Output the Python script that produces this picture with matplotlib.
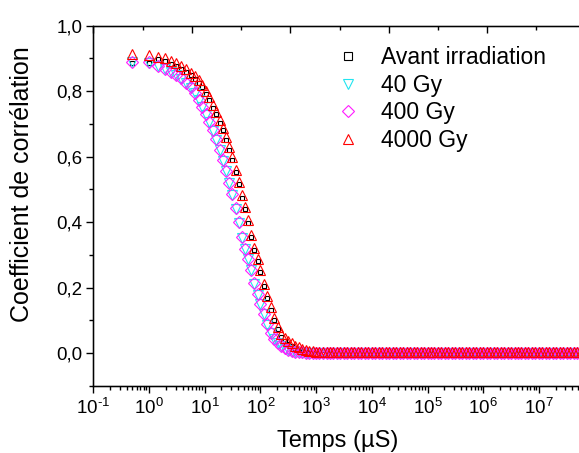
import numpy as np
import matplotlib
matplotlib.use("Agg")
import matplotlib.pyplot as plt
from matplotlib.ticker import FixedLocator, FuncFormatter, LogLocator, MultipleLocator, NullFormatter

plt.rcParams['font.family'] = ['Liberation Sans', 'DejaVu Sans']
plt.rcParams['mathtext.default'] = 'regular'
plt.rcParams['axes.unicode_minus'] = False

# temps de corrélation (µs) - partie décroissante
t_decay = [0.5, 1.0, 1.45, 1.9, 2.5, 3.1, 3.8, 4.6, 5.6, 6.6, 7.8, 9.0,
           10.5, 12, 14, 16, 18.5, 21, 24, 27.5, 31, 36, 41, 47, 53, 60, 68, 78, 89,
           100, 115, 133, 154, 178, 205, 237, 274, 316, 365, 422, 487, 562, 649, 750, 866]

avant_decay = [0.887, 0.887, 0.897, 0.892, 0.884, 0.877, 0.869, 0.86, 0.849, 0.838, 0.825, 0.812,
               0.792, 0.774, 0.75, 0.729, 0.704, 0.68, 0.652, 0.62, 0.59, 0.552, 0.515, 0.475, 0.439,
               0.397, 0.354, 0.314, 0.28, 0.247, 0.204, 0.167, 0.132, 0.1, 0.072, 0.05, 0.037,
               0.028, 0.021, 0.015, 0.01, 0.006, 0.003, 0.001, 0.0]
gy40_decay = [0.89, 0.887, 0.876, 0.868, 0.859, 0.849, 0.838, 0.825, 0.811, 0.793, 0.772, 0.752,
              0.728, 0.706, 0.679, 0.652, 0.619, 0.588, 0.555, 0.518, 0.484, 0.441, 0.398, 0.352, 0.318,
              0.287, 0.253, 0.212, 0.178, 0.15, 0.118, 0.087, 0.061, 0.043, 0.031, 0.02, 0.013,
              0.008, 0.005, 0.003, 0.002, 0.001, 0.0, -0.001, -0.001]
gy400_decay = [0.89, 0.888, 0.877, 0.869, 0.86, 0.85, 0.839, 0.826, 0.812, 0.794, 0.773, 0.753,
               0.729, 0.707, 0.68, 0.653, 0.62, 0.589, 0.556, 0.519, 0.485, 0.442, 0.399, 0.353, 0.319,
               0.288, 0.254, 0.213, 0.179, 0.151, 0.119, 0.088, 0.062, 0.044, 0.032, 0.021, 0.014,
               0.009, 0.006, 0.004, 0.003, 0.002, 0.001, 0.0, 0.0]
gy4000_decay = [0.915, 0.91, 0.905, 0.9, 0.892, 0.885, 0.877, 0.868, 0.857, 0.846, 0.833, 0.82,
                0.80, 0.782, 0.758, 0.737, 0.712, 0.688, 0.66, 0.628, 0.598, 0.56, 0.523, 0.483, 0.447,
                0.405, 0.362, 0.322, 0.288, 0.255, 0.212, 0.175, 0.14, 0.108, 0.08, 0.058, 0.045,
                0.036, 0.029, 0.022, 0.017, 0.012, 0.009, 0.007, 0.006]

# palier (µs)
t_plateau = [1e3, 1.15e3, 1.33e3, 1.54e3, 1.78e3, 2.05e3, 2.37e3, 2.74e3, 3.16e3, 3.65e3, 4.22e3, 4.87e3,
             5.62e3, 6.49e3, 7.5e3, 8.66e3,
             1e4, 1.15e4, 1.33e4, 1.54e4, 1.78e4, 2.05e4, 2.37e4, 2.74e4, 3.16e4, 3.65e4, 4.22e4, 4.87e4,
             5.62e4, 6.49e4, 7.5e4, 8.66e4,
             1e5, 1.15e5, 1.33e5, 1.54e5, 1.78e5, 2.05e5, 2.37e5, 2.74e5, 3.16e5, 3.65e5, 4.22e5, 4.87e5,
             5.62e5, 6.49e5, 7.5e5, 8.66e5,
             1e6, 1.15e6, 1.33e6, 1.54e6, 1.78e6, 2.05e6, 2.37e6, 2.74e6, 3.16e6, 3.65e6, 4.22e6, 4.87e6,
             5.62e6, 6.49e6, 7.5e6, 8.66e6,
             1e7, 1.15e7, 1.33e7, 1.54e7, 1.78e7, 2.05e7, 2.37e7, 2.74e7, 3.16e7, 3.65e7, 4.22e7, 4.87e7,
             5.62e7]
avant_floor = -0.002
gy40_floor = -0.001
gy400_floor = 0.0
gy4000_floor = 0.004

labels = ["Avant irradiation", "40 Gy", "400 Gy", "4000 Gy"]
colors = ["black", "#22e5f0", "#ff1cff", "#ff0000"]
markers = ["s", "v", "D", "^"]
sizes = [3.5, 7, 6, 7.4]
legend_sizes = [5.5, 7, 6, 7.4]

t_all = t_decay + t_plateau
series = [
    avant_decay + list(np.full(len(t_plateau), avant_floor)),
    gy40_decay + list(np.full(len(t_plateau), gy40_floor)),
    gy400_decay + list(np.full(len(t_plateau), gy400_floor)),
    gy4000_decay + list(np.full(len(t_plateau), gy4000_floor)),
]

W, H = 579, 453
fig = plt.figure(figsize=(W / 100, H / 100), dpi=100)
ax = fig.add_axes([93.3 / W, 67.3 / H, 492.4 / W, 360 / H])

for vals, lab, c, m, s in zip(series, labels, colors, markers, sizes):
    ax.plot(t_all, vals, linestyle='none', marker=m, markersize=s,
            markerfacecolor='none', markeredgecolor=c, markeredgewidth=0.8, label=lab)

ax.set_xscale('log')
ax.set_xlim(0.1, 10 ** (-1 + 492.4 / 55.7))
ax.set_ylim(-0.1, 1.0)

ax.xaxis.set_major_locator(LogLocator(base=10, numticks=20))
ax.xaxis.set_minor_locator(LogLocator(base=10, subs=np.arange(2, 10), numticks=20))
ax.xaxis.set_minor_formatter(NullFormatter())
ax.xaxis.set_major_formatter(FuncFormatter(
    lambda v, p: "$10^{%s}$" % str(int(round(np.log10(v)))).replace('-', '\u2010')))
ax.yaxis.set_major_locator(FixedLocator([0.0, 0.2, 0.4, 0.6, 0.8, 1.0]))
ax.yaxis.set_minor_locator(MultipleLocator(0.1))
ax.yaxis.set_major_formatter(FuncFormatter(lambda v, p: f"{v:.1f}".replace('.', ',')))

ax.tick_params(axis='both', which='major', direction='out', length=5, width=1, labelsize=13.5)
ax.tick_params(axis='both', which='minor', direction='out', length=2.6, width=1)
ax.tick_params(axis='x', pad=4)
ax.tick_params(axis='y', pad=3)
for sp in ax.spines.values():
    sp.set_linewidth(1)

# axes secondaires (haut et droite) comme dans Origin
top = ax.twiny()
top.set_xlim(0, 5)
top.xaxis.set_major_locator(MultipleLocator(1))
top.xaxis.set_minor_locator(MultipleLocator(0.5))
top.tick_params(axis='x', which='major', direction='in', length=5, width=1, labeltop=False)
top.tick_params(axis='x', which='minor', direction='in', length=2.6, width=1)
right = ax.twinx()
right.set_ylim(0, 5)
right.yaxis.set_major_locator(MultipleLocator(1))
right.tick_params(axis='y', which='major', direction='in', length=5, width=1, labelright=False)

leg = ax.legend(loc='upper left', bbox_to_anchor=(337 / W, 1 - 46 / H), bbox_transform=fig.transFigure,
                frameon=False, fontsize=16.5, handlelength=1.0, handletextpad=0.9,
                labelspacing=0.2, borderpad=0, borderaxespad=0)
for h, s in zip(leg.legend_handles, legend_sizes):
    h.set_markersize(s)

fig.text(338 / W, 1 - 441 / H, "Temps (µS)", ha='center', va='center', fontsize=17)
fig.text(22 / W, 1 - 184 / H, "Coefficient de corrélation", ha='center', va='center',
         rotation=90, fontsize=18)

fig.savefig("out.png", dpi=100)
